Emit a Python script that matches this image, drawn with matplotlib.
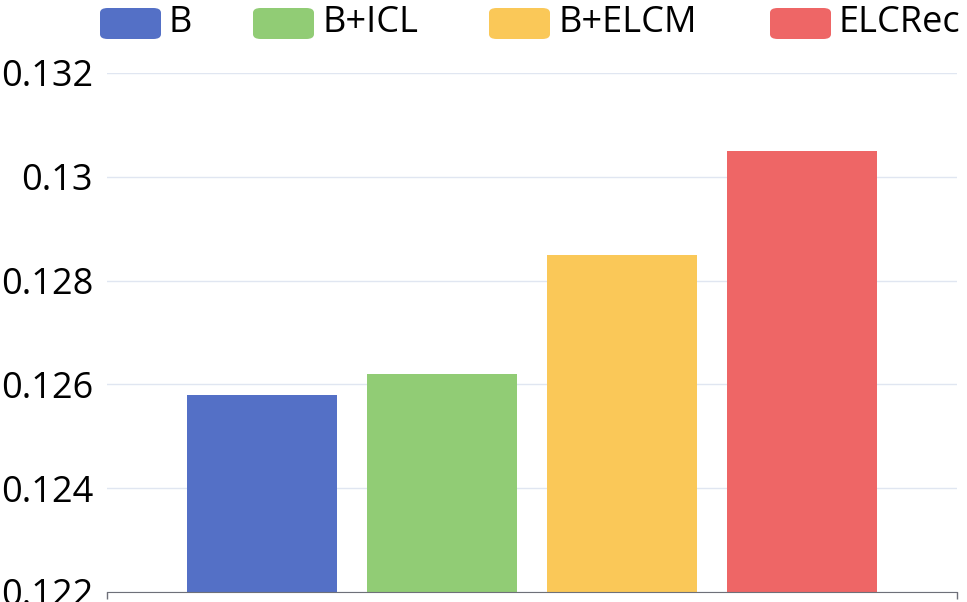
import matplotlib.pyplot as plt
from matplotlib.patches import FancyBboxPatch

plt.rcParams['font.family'] = ['Open Sans', 'DejaVu Sans']

methods = ['B', 'B+ICL', 'B+ELCM', 'ELCRec']
scores = [0.1258, 0.1262, 0.1285, 0.1305]
colors = ['#5470C6', '#91CC75', '#FAC858', '#EE6666']
y_ticks = [0.122, 0.124, 0.126, 0.128, 0.13, 0.132]
y_labels = ['0.122', '0.124', '0.126', '0.128', '0.13', '0.132']

W, H = 967, 602
fig = plt.figure(figsize=(W / 100, H / 100), dpi=100)
ax = fig.add_axes([107 / W, 10 / H, 850 / W, 519 / H])

# one category, four series side by side
bar_w = 150 / 850
step = 180 / 850
for i, (m, v, c) in enumerate(zip(methods, scores, colors)):
    ax.bar((i - 1.5) * step, v - 0.122, bottom=0.122, width=bar_w, color=c, zorder=3)

ax.set_xlim(-0.5, 0.5)
ax.set_ylim(0.122, 0.132)
ax.set_yticks(y_ticks)
ax.set_yticklabels(y_labels, fontsize=26)
ax.set_xticks([-0.5, 0.5])
ax.set_xticklabels([])
ax.tick_params(axis='x', length=5, color='#6E7079', width=1)
ax.tick_params(axis='y', length=0, pad=10)
ax.grid(axis='y', color='#E0E6F1', linewidth=1, zorder=0)
for s in ['top', 'right', 'left']:
    ax.spines[s].set_visible(False)
ax.spines['bottom'].set_color('#6E7079')
ax.spines['bottom'].set_zorder(4)

# legend across the top
icon_x = [100, 253, 489, 770]
for x0, m, c in zip(icon_x, methods, colors):
    fig.patches.append(FancyBboxPatch(
        (x0 / W, 1 - 39 / H), 61 / W, 31 / H,
        boxstyle='round,pad=0,rounding_size=0.008',
        transform=fig.transFigure, facecolor=c, edgecolor='none'))
    fig.text((x0 + 69) / W, 1 - 23 / H, m, fontsize=26, va='center', ha='left')

fig.savefig('out.png', dpi=100)
